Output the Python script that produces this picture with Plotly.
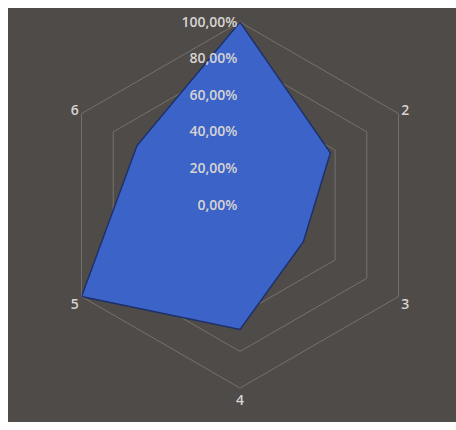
import plotly.graph_objects as go

categories = ["1", "2", "3", "4", "5", "6"]
values = [1.00, 0.57, 0.40, 0.68, 1.00, 0.65]
radial_ticks = [0, 0.2, 0.4, 0.6, 0.8, 1.0]
category_labels = ["", "2", "3", "4", "5", "6"]

BG = "rgb(79,75,72)"
GRID = "rgb(118,113,108)"
TXT = "rgb(215,212,210)"

fig = go.Figure()
fig.add_trace(go.Scatterpolar(
    r=values + values[:1],
    theta=categories + categories[:1],
    mode="lines",
    fill="toself",
    fillcolor="rgb(60,99,199)",
    line=dict(color="rgb(30,48,105)", width=1.5),
    showlegend=False,
    hoverinfo="skip",
))

fig.update_layout(
    width=456, height=430,
    margin=dict(l=8, r=0, t=8, b=8),
    paper_bgcolor="white",
    separators=", ",
    font=dict(family="Open Sans, sans-serif", color=TXT),
    shapes=[dict(type="rect", xref="paper", yref="paper", x0=0, x1=1, y0=0, y1=1,
                 fillcolor=BG, line=dict(width=0), layer="below")],
    polar=dict(
        domain=dict(x=[0.1094, 0.9264], y=[0.082, 0.966]),
        bgcolor=BG,
        gridshape="linear",
        radialaxis=dict(
            range=[0, 1],
            tickvals=radial_ticks,
            tickformat=".2%",
            angle=90,
            tickangle=90,
            side="counterclockwise",
            showline=False,
            ticks="",
            gridcolor=GRID,
            gridwidth=1,
            tickfont=dict(size=14, color=TXT, weight=600),
            layer="above traces",
        ),
        angularaxis=dict(
            direction="clockwise",
            rotation=90,
            tickvals=categories,
            ticktext=category_labels,
            showgrid=False,
            showline=True,
            linecolor=GRID,
            linewidth=1,
            ticks="",
            tickfont=dict(size=14, color=TXT, weight=600),
            layer="below traces",
        ),
    ),
)

fig.write_html("out.html")
